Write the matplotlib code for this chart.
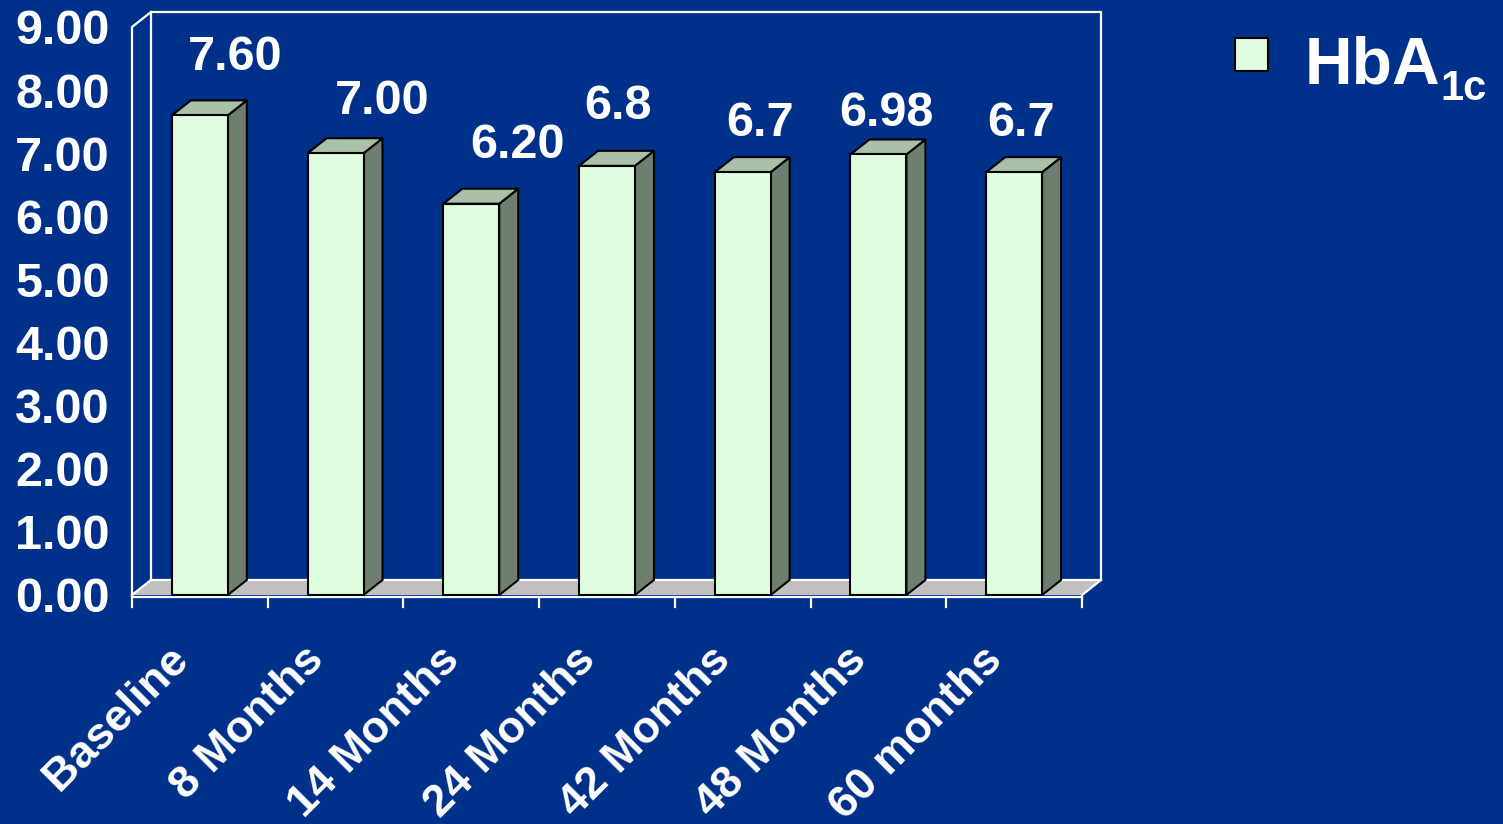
import matplotlib
matplotlib.use('Agg')
import matplotlib.pyplot as plt
from matplotlib.patches import Polygon, Rectangle
import numpy as np

# data
categories = ['Baseline', '8 Months', '14 Months', '24 Months',
              '42 Months', '48 Months', '60 months']
hba1c = [7.60, 7.00, 6.20, 6.80, 6.70, 6.98, 6.70]
value_labels = ['7.60', '7.00', '6.20', '6.8', '6.7', '6.98', '6.7']
y_ticks = [0, 1, 2, 3, 4, 5, 6, 7, 8, 9]

# label placement (hand-moved in the original slide)
label_dx = [0.26, 0.34, 0.34, 0.08, 0.13, 0.06, 0.05]
label_dy = [0.72, 0.62, 0.72, 0.75, 0.57, 0.45, 0.57]

NAVY = '#00318A'
FRONT = '#E0FDE0'
SIDE = '#6E7F6E'
TOP = '#A9C1A9'
FLOOR = '#C0C0C0'
WHITE = 'white'

plt.rcParams['font.family'] = 'Liberation Sans'
plt.rcParams['font.weight'] = 'bold'

W, H = 1503, 824
fig = plt.figure(figsize=(W / 100, H / 100), dpi=100, facecolor=NAVY)
ax = fig.add_axes([132 / W, (H - 595) / H, 950 / W, 568 / H])
ax.set_facecolor('none')
ax.set_xlim(-0.5, len(categories) - 0.5)
ax.set_ylim(0, 9)
for s in ax.spines.values():
    s.set_visible(False)

# depth offset of the 3D effect, in data units
ddx = 19 / 135.7
ddy = 15 / 63.1
x0, x1 = -0.5, len(categories) - 0.5
ymax = y_ticks[-1]

# floor
ax.add_patch(Polygon([(x0, 0), (x1, 0), (x1 + ddx, ddy), (x0 + ddx, ddy)],
                     closed=True, facecolor=FLOOR, edgecolor='none', zorder=1,
                     clip_on=False))

lw = 1.6
frame = [
    [(x0 + ddx, ddy), (x0 + ddx, ymax + ddy), (x1 + ddx, ymax + ddy),
     (x1 + ddx, ddy), (x0 + ddx, ddy)],               # back wall
    [(x0, 0), (x0, ymax), (x0 + ddx, ymax + ddy)],   # left wall
    [(x0, 0), (x0 + ddx, ddy)],
    [(x1, 0), (x1 + ddx, ddy)],
]
for pts in frame:
    xs, ys = zip(*pts)
    ax.plot(xs, ys, color=WHITE, lw=lw, zorder=2, clip_on=False,
            solid_joinstyle='miter')

# x axis line with ticks at category boundaries
ax.plot([x0, x1], [-0.03, -0.03], color=WHITE, lw=lw, zorder=2, clip_on=False)
for b in np.arange(x0, x1 + 0.01, 1.0):
    ax.plot([b, b], [-0.03, -0.19], color=WHITE, lw=lw, zorder=2, clip_on=False)

# 3D bars
hw = 0.206
for i, v in enumerate(hba1c):
    ax.add_patch(Polygon([(i + hw, 0), (i + hw + ddx, ddy), (i + hw + ddx, v + ddy), (i + hw, v)],
                         closed=True, facecolor=SIDE, edgecolor='black', lw=1.5,
                         zorder=3, clip_on=False))
    ax.add_patch(Polygon([(i - hw, v), (i + hw, v), (i + hw + ddx, v + ddy), (i - hw + ddx, v + ddy)],
                         closed=True, facecolor=TOP, edgecolor='black', lw=1.5,
                         zorder=3, clip_on=False))
    ax.add_patch(Rectangle((i - hw, 0), 2 * hw, v, facecolor=FRONT,
                           edgecolor='black', lw=1.5, zorder=4, clip_on=False))
    ax.text(i + label_dx[i], v + label_dy[i], value_labels[i], color=WHITE,
            fontsize=35, fontweight='bold', ha='center', va='baseline', zorder=5)

# y ticks
ax.set_yticks(y_ticks)
ax.set_yticklabels([f'{t:.2f}' for t in y_ticks])
ax.tick_params(axis='y', length=0, pad=16, labelsize=35, labelcolor=WHITE)
ax.set_xticks([])

# category labels
for i, c in enumerate(categories):
    ax.annotate(c, xy=(i, 0), xytext=(-13, -42), textcoords='offset points',
                rotation=45, rotation_mode='anchor', ha='right', va='center',
                color=WHITE, fontsize=32.5, fontweight='bold', annotation_clip=False)

# legend
fig.add_artist(Rectangle((1235 / W, (H - 71) / H), 33 / W, 33 / H,
                         transform=fig.transFigure, facecolor=FRONT,
                         edgecolor='black', lw=1.5))
fig.text(1305 / W, (H - 83) / H, 'HbA', color=WHITE, fontsize=47.5,
         fontweight='bold', ha='left', va='baseline')
fig.text(1440 / W, (H - 100) / H, '1c', color=WHITE, fontsize=30,
         fontweight='bold', ha='left', va='baseline')

fig.savefig('out.png', dpi=100, facecolor=NAVY)
plt.close(fig)
